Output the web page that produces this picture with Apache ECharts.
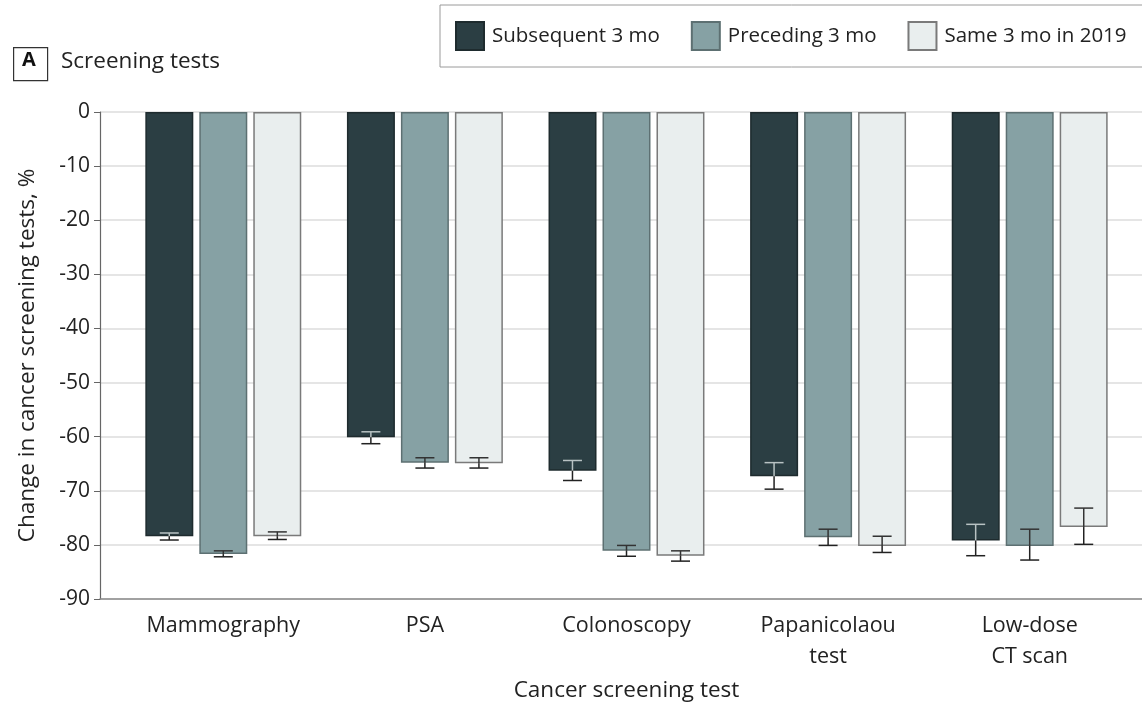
<!DOCTYPE html>
<html>
<head>
<meta charset="utf-8">
<script src="https://cdn.jsdelivr.net/npm/echarts@6/dist/echarts.min.js"></script>
<style>
html,body{margin:0;padding:0;background:#fff;}
#chart{width:1142px;height:707px;}
</style>
</head>
<body>
<div id="chart"></div>
<script>
const categories = ['Mammography', 'PSA', 'Colonoscopy', 'Papanicolaou\ntest', 'Low-dose\nCT scan'];
const seriesNames = ['Subsequent 3 mo', 'Preceding 3 mo', 'Same 3 mo in 2019'];
const subsequent = [-78.4, -60.1, -66.3, -67.3, -79.2];
const subsequentLow = [-79.1, -61.3, -68.1, -69.7, -82.0];
const subsequentHigh = [-77.8, -59.1, -64.4, -64.8, -76.2];
const preceding = [-81.7, -64.8, -81.1, -78.6, -80.2];
const precedingLow = [-82.2, -65.8, -82.1, -80.1, -82.8];
const precedingHigh = [-81.1, -63.9, -80.1, -77.1, -77.1];
const same2019 = [-78.4, -64.9, -82.0, -80.2, -76.7];
const same2019Low = [-79.0, -65.8, -83.0, -81.4, -79.9];
const same2019High = [-77.6, -63.9, -81.1, -78.4, -73.2];
const yTicks = [0, -10, -20, -30, -40, -50, -60, -70, -80, -90];

const FONT = '"Open Sans", "Noto Sans", sans-serif';
const colors = ['#2b3e43', '#86a1a4', '#e9eeee'];
const borders = ['#1e2b2e', '#5d7072', '#7a7a7a'];
const innerErr = ['#b8c2c3', '#333333', '#333333'];

const values = [subsequent, preceding, same2019];
const lows = [subsequentLow, precedingLow, same2019Low];
const highs = [subsequentHigh, precedingHigh, same2019High];

const chart = echarts.init(document.getElementById('chart'), null, {renderer: 'canvas'});

const barSeries = seriesNames.map((n, i) => ({
  name: n,
  type: 'bar',
  xAxisIndex: 1,
  yAxisIndex: 1,
  data: values[i],
  barWidth: '23.8%',
  barGap: '12.5%',
  itemStyle: {color: colors[i], borderColor: borders[i], borderWidth: 1.5},
  emphasis: {disabled: true},
  z: 2
}));

const errSeries = seriesNames.map((n, i) => ({
  type: 'custom',
  xAxisIndex: 1,
  yAxisIndex: 1,
  z: 5,
  silent: true,
  data: categories.map((c, k) => [k, lows[i][k], highs[i][k], values[i][k]]),
  renderItem: function (params, api) {
    const k = api.value(0);
    const band = api.size([1, 0])[0];
    const off = (i - 1) * band * 0.268;
    const pLow = api.coord([k, api.value(1)]);
    const pHigh = api.coord([k, api.value(2)]);
    const pVal = api.coord([k, api.value(3)]);
    const x = pLow[0] + off;
    const cap = 9.5;
    const inner = innerErr[i];
    const outer = '#222';
    return {
      type: 'group',
      children: [
        {type: 'line', shape: {x1: x, y1: pHigh[1], x2: x, y2: pVal[1]}, style: {stroke: inner, lineWidth: 1.5}},
        {type: 'line', shape: {x1: x - cap, y1: pHigh[1], x2: x + cap, y2: pHigh[1]}, style: {stroke: inner, lineWidth: 1.5}},
        {type: 'line', shape: {x1: x, y1: pVal[1], x2: x, y2: pLow[1]}, style: {stroke: outer, lineWidth: 1.5}},
        {type: 'line', shape: {x1: x - cap, y1: pLow[1], x2: x + cap, y2: pLow[1]}, style: {stroke: outer, lineWidth: 1.5}}
      ]
    };
  }
}));

const option = {
  animation: false,
  textStyle: {fontFamily: FONT},
  legend: {
    data: seriesNames,
    left: 440,
    top: 5,
    width: 760,
    itemWidth: 28,
    itemHeight: 28,
    itemGap: 31,
    padding: [16, 30, 16, 15],
    borderColor: '#9a9a9a',
    borderWidth: 1,
    icon: 'rect',
    selectedMode: false,
    textStyle: {fontSize: 20.5, color: '#222', fontFamily: FONT, padding: [0, 0, 0, 3]}
  },
  graphic: [
    {type: 'rect', left: 13, top: 47, shape: {width: 34, height: 33}, style: {fill: '#fff', stroke: '#333', lineWidth: 1.2}},
    {type: 'text', left: 22, top: 50, style: {text: 'A', font: 'bold 20px ' + FONT, fill: '#111'}},
    {type: 'text', left: 61, top: 50, style: {text: 'Screening tests', font: '22.5px ' + FONT, fill: '#222'}}
  ],
  grid: [
    {left: 100, right: 0, top: 112, height: 487, containLabel: false},
    {left: 122.5, width: 1008, top: 112, height: 487, containLabel: false}
  ],
  xAxis: [
    {
      gridIndex: 0, type: 'value', min: 0, max: 1, position: 'bottom',
      axisLine: {show: true, onZero: false, lineStyle: {color: '#8a8a8a', width: 1.5}},
      axisTick: {show: false}, axisLabel: {show: false}, splitLine: {show: false}
    },
    {
      gridIndex: 1, type: 'category', data: categories, position: 'bottom',
      axisLine: {show: false}, axisTick: {show: false},
      axisLabel: {fontSize: 21.5, color: '#222', margin: 11, lineHeight: 31, fontFamily: FONT},
      name: 'Cancer screening test', nameLocation: 'middle', nameGap: 80,
      nameTextStyle: {fontSize: 22.5, color: '#222', fontFamily: FONT}
    }
  ],
  yAxis: [
    {
      gridIndex: 0, type: 'value', min: -90, max: 0, interval: 10,
      axisLine: {show: true, lineStyle: {color: '#666', width: 1.2}},
      axisTick: {show: true, length: 6, lineStyle: {color: '#666'}},
      axisLabel: {fontSize: 21, color: '#222', margin: 10, fontFamily: FONT},
      splitLine: {show: true, lineStyle: {color: '#dcdcdc', width: 1.5}},
      name: 'Change in cancer screening tests, %', nameLocation: 'middle', nameGap: 61,
      nameRotate: 90,
      nameTextStyle: {fontSize: 22.5, color: '#222', fontFamily: FONT}
    },
    {
      gridIndex: 1, type: 'value', min: -90, max: 0, interval: 10, show: false
    }
  ],
  series: barSeries.concat(errSeries)
};
chart.setOption(option);
</script>
</body>
</html>
